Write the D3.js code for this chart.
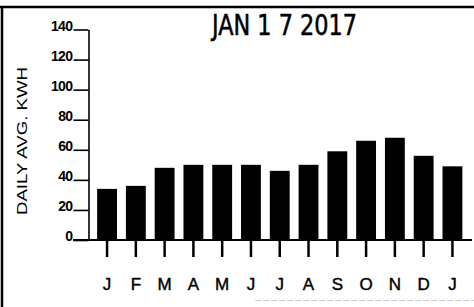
<!DOCTYPE html>
<html lang='en'>
<head>
    <meta charset='UTF-8'>
    <title>Daily avg kWh</title>
    <style>
        body { margin: 0; background: #fff; }
        svg { display: block; }
    </style>
</head>
<body>
<div id="chart-area"></div>
<script src='https://d3js.org/d3.v7.min.js'></script>
<script>

    // chart data
    const months = ['J', 'F', 'M', 'A', 'M', 'J', 'J', 'A', 'S', 'O', 'N', 'D', 'J'];
    const kwh = [34, 36, 48, 50, 50, 50, 46, 50, 59, 66, 68, 56, 49];
    const yTicks = [0, 20, 40, 60, 80, 100, 120, 140];
    const title = 'JAN 1 7 2017';
    const yLabel = 'DAILY AVG. KWH';

    const outerWidth = 474;
    const outerHeight = 307;
    const plot = {left: 88.5, right: 471, top: 29.5, bottom: 240};
    const font = "'Liberation Sans', Arial, sans-serif";

    const svg = d3.select('#chart-area').append('svg')
        .attr('width', outerWidth)
        .attr('height', outerHeight);

    svg.append('rect')
        .attr('width', outerWidth).attr('height', outerHeight)
        .attr('fill', '#fff');

    // frame (top + left edges of the printed card)
    svg.append('line')
        .attr('x1', 0).attr('x2', outerWidth).attr('y1', 7).attr('y2', 7)
        .attr('stroke', '#000').attr('stroke-width', 2.5);
    svg.append('line')
        .attr('x1', 2).attr('x2', 2).attr('y1', 6).attr('y2', outerHeight)
        .attr('stroke', '#000').attr('stroke-width', 2.5);
    svg.append('line')
        .attr('x1', 255).attr('x2', outerWidth).attr('y1', 300.5).attr('y2', 300.5)
        .attr('stroke', '#ccc').attr('stroke-width', 1).attr('stroke-dasharray', '6,2');

    const x = d3.scaleBand()
        .domain(d3.range(months.length))
        .range([plot.left, plot.right])
        .paddingInner(0.31)
        .paddingOuter(0.3);

    const y = d3.scaleLinear()
        .domain([0, 140])
        .range([plot.bottom, plot.top]);

    // bars
    svg.append('g')
        .selectAll('rect')
        .data(kwh)
        .join('rect')
        .attr('x', (d, i) => x(i))
        .attr('y', d => y(d))
        .attr('width', x.bandwidth())
        .attr('height', d => y(0) - y(d))
        .attr('fill', '#000');

    // y axis
    const gy = svg.append('g')
        .attr('transform', `translate(${plot.left},0)`)
        .call(d3.axisLeft(y).tickValues(yTicks).tickSize(15).tickSizeOuter(0).tickPadding(1))
        .attr('font-family', font)
        .attr('font-size', 14)
        .attr('font-weight', 'bold');
    gy.select('.domain').attr('stroke', '#000').attr('stroke-width', 1.6);
    gy.selectAll('.tick line').attr('stroke', '#000').attr('stroke-width', 1.6);
    gy.selectAll('.tick text')
        .attr('fill', '#000')
        .attr('dy', '0.05em')
        .attr('letter-spacing', '-0.6');

    // x axis
    const gx = svg.append('g')
        .attr('transform', `translate(0,${plot.bottom})`)
        .call(d3.axisBottom(x).tickFormat(i => months[i]).tickSize(17).tickPadding(21))
        .attr('font-family', font)
        .attr('font-size', 17);
    gx.select('.domain').remove();
    gx.selectAll('.tick line').attr('stroke', '#000').attr('stroke-width', 2.5);
    gx.selectAll('.tick text')
        .attr('fill', '#000')
        .attr('stroke', '#000')
        .attr('stroke-width', 0.4);

    // baseline
    svg.append('line')
        .attr('x1', 73).attr('x2', 472)
        .attr('y1', y(0)).attr('y2', y(0))
        .attr('stroke', '#000').attr('stroke-width', 2);

    // y label
    svg.append('text')
        .attr('transform', `translate(27,141) rotate(-90)`)
        .attr('text-anchor', 'middle')
        .attr('textLength', 148)
        .attr('lengthAdjust', 'spacingAndGlyphs')
        .attr('font-family', font)
        .attr('font-size', 14.5)
        .text(yLabel);

    // date stamp
    svg.append('text')
        .attr('x', 212)
        .attr('y', 35)
        .attr('textLength', 145)
        .attr('lengthAdjust', 'spacingAndGlyphs')
        .attr('font-family', "'Liberation Sans Narrow', 'DejaVu Sans Condensed', 'Liberation Sans', sans-serif")
        .attr('font-size', 28)
        .attr('stroke', '#000')
        .attr('stroke-width', 0.5)
        .text(title);

</script>
</body>
</html>
